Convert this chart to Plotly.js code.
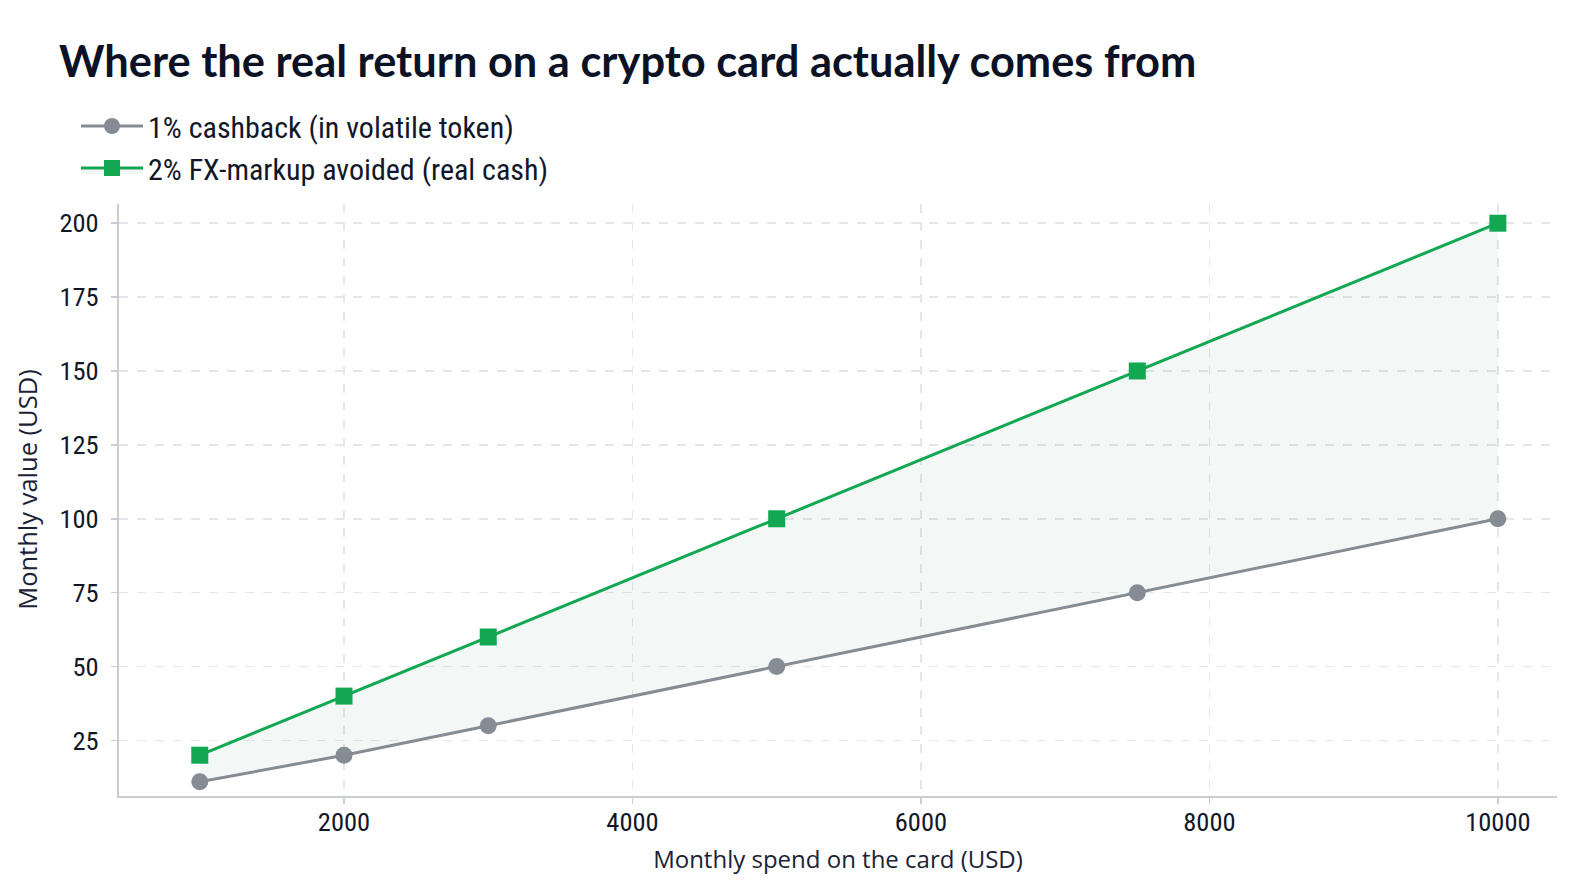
<!DOCTYPE html>
<html><head><meta charset="utf-8">
<script src="https://cdn.plot.ly/plotly-3.0.1.min.js"></script>
<style>
html,body{margin:0;padding:0;background:#ffffff;}
</style>
</head>
<body>
<div id="chart" style="width:1586px;height:892px;"></div>
<script>
// ---- data ----
var monthlySpend = [1000, 2000, 3000, 5000, 7500, 10000];
var cashbackToken = [11, 20, 30, 50, 75, 100];
var fxAvoided = [20, 40, 60, 100, 150, 200];
var seriesNames = ["1% cashback (in volatile token)", "2% FX-markup avoided (real cash)"];
var chartTitle = "Where the real return on a crypto card actually comes from";
var xTitle = "Monthly spend on the card (USD)";
var yTitle = "Monthly value (USD)";

var txt = '#111729';
var COND = 'Roboto Condensed, Open Sans, sans-serif';
var BODY = 'Open Sans, Noto Sans, sans-serif';
var HEAD = 'Lato, Open Sans, sans-serif';

var traces = [
  {
    x: monthlySpend, y: cashbackToken, name: seriesNames[0],
    type: 'scatter', mode: 'lines+markers',
    line: {color: '#868c94', width: 3},
    marker: {symbol: 'circle', size: 17, color: '#868c94'}
  },
  {
    x: monthlySpend, y: fxAvoided, name: seriesNames[1],
    type: 'scatter', mode: 'lines+markers',
    fill: 'tonexty', fillcolor: 'rgba(20,100,70,0.05)',
    line: {color: '#12a852', width: 3},
    marker: {symbol: 'square', size: 17, color: '#12a852'}
  }
];

var layout = {
  width: 1586, height: 892,
  paper_bgcolor: '#ffffff', plot_bgcolor: '#ffffff',
  margin: {l: 119, r: 29, t: 204, b: 96, autoexpand: false},
  font: {family: BODY, color: txt},
  title: {
    text: chartTitle,
    font: {family: HEAD, size: 43.4, weight: 700, color: '#0c1225'},
    x: 59/1586, xanchor: 'left', xref: 'container',
    y: 1 - 62/892, yanchor: 'middle', yref: 'container'
  },
  showlegend: true,
  legend: {
    orientation: 'v', xref: 'container', yref: 'container', traceorder: 'normal',
    x: 76/1586, xanchor: 'left', y: 1 - 100/892, yanchor: 'top',
    font: {family: COND, size: 30, color: txt},
    itemwidth: 62, bgcolor: 'rgba(0,0,0,0)', borderwidth: 0
  },
  xaxis: {
    range: [440, 10410], tick0: 0, dtick: 2000, tickformat: 'd',
    showgrid: true, gridcolor: '#e3e7e9', griddash: 'dash', gridwidth: 1.5,
    zeroline: false, showline: true, linecolor: '#c9cdd2', linewidth: 2,
    ticks: 'outside', ticklen: 6, tickcolor: '#c9cdd2', tickwidth: 1.5,
    ticklabelstandoff: -5,
    tickfont: {family: COND, size: 26.5, color: txt},
    title: {text: xTitle, font: {family: BODY, size: 24, color: '#1b2236'}, standoff: 15.5}
  },
  yaxis: {
    range: [6.2, 206.5], tick0: 0, dtick: 25, tickformat: 'd',
    showgrid: true, gridcolor: '#e3e7e9', griddash: 'dash', gridwidth: 1.5,
    zeroline: false, showline: true, linecolor: '#c9cdd2', linewidth: 2,
    ticks: 'outside', ticklen: 6, tickcolor: '#c9cdd2', tickwidth: 1.5,
    ticklabelstandoff: 7,
    tickfont: {family: COND, size: 26.5, color: txt}
  },
  annotations: [{
    text: yTitle, textangle: -90, showarrow: false,
    xref: 'paper', yref: 'paper',
    x: (26.3 - 119) / 1438, xanchor: 'center',
    y: (796 - 489.5) / 592, yanchor: 'middle',
    font: {family: BODY, size: 25.5, color: '#1b2236'}
  }]
};

Plotly.newPlot('chart', traces, layout, {displayModeBar: false, staticPlot: true});
</script>
</body></html>
